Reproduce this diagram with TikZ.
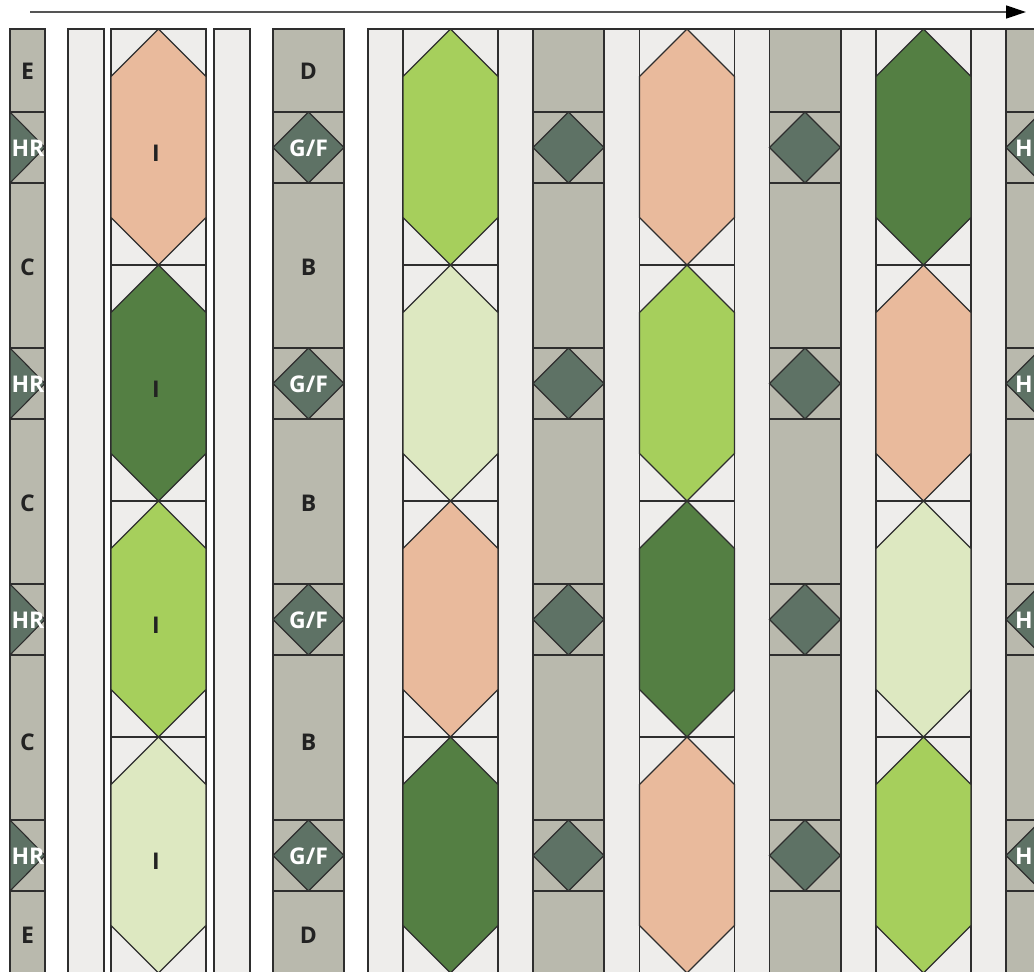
\documentclass[tikz,border=0pt]{standalone}
\usepackage{fontspec}
\setmainfont{Open Sans}
\usetikzlibrary{arrows.meta}
\definecolor{linec}{HTML}{2E2E2E}
\definecolor{arrowc}{HTML}{555555}
\definecolor{lightc}{HTML}{EEEDEB}
\definecolor{grayc}{HTML}{B9B9AD}
\definecolor{diamc}{HTML}{5E7265}
\definecolor{peach}{HTML}{E9BA9C}
\definecolor{dkgreen}{HTML}{547F43}
\definecolor{ltgreen}{HTML}{A6CF5C}
\definecolor{palegreen}{HTML}{DDE8C1}
\definecolor{labc}{HTML}{222222}
\begin{document}
\begin{tikzpicture}[x=1pt,y=-1pt,
  edge/.style={draw=linec, line width=1.1pt, line join=miter},
  lightbox/.style={edge, fill=lightc},
  graybox/.style={edge, fill=grayc},
  diambox/.style={edge, fill=diamc},
  lab/.style={font=\fontsize{23}{23}\selectfont\bfseries, text=labc, inner sep=0pt},
  wlab/.style={lab, text=white}]
\useasboundingbox (0,0) rectangle (1034,972);
\clip (0,0) rectangle (1034,972);
\fill[white] (0,0) rectangle (1034,972);
% light strips
\foreach \x/\w in {68/36, 214/36, 368/35, 498/35, 604/35.5, 734.5/35, 841/35, 971/35}
  \draw[lightbox] (\x,29) rectangle ++(\w,980);
% hexagon columns
\foreach \x/\cols in {111/{peach,dkgreen,ltgreen,palegreen},
                      403/{ltgreen,palegreen,peach,dkgreen},
                      639.5/{peach,ltgreen,dkgreen,peach},
                      876/{dkgreen,peach,palegreen,ltgreen}}{
  \foreach \c [count=\i from 0] in \cols {
    \pgfmathsetmacro\yt{29+236*\i}
    \draw[lightbox] (\x,\yt) rectangle ++(95,236);
    \draw[edge, fill=\c] (\x+47.5,\yt) -- ++(47.5,47.5) -- ++(0,141) -- ++(-47.5,47.5)
      -- ++(-47.5,-47.5) -- ++(0,-141) -- cycle;
  }
}
% gray columns with diamonds
\foreach \x in {273, 533, 769.5, 1006}{
  \draw[graybox] (\x,29) rectangle ++(71,980);
  \foreach \k in {0,...,3}{
    \draw[graybox] (\x,112+236*\k) rectangle ++(71,71);
    \draw[diambox] (\x+35.5,112+236*\k) -- ++(35.5,35.5) -- ++(-35.5,35.5) -- ++(-35.5,-35.5) -- cycle;
  }
}
% left half column
\draw[graybox] (10,29) rectangle (45,1000);
\foreach \k in {0,...,3}{
  \draw[graybox] (10,112+236*\k) rectangle ++(35,71);
  \draw[diambox] (10,112+236*\k) -- ++(35,35.5) -- ++(-35,35.5) -- cycle;
}
% labels
\node[lab] (e1) at (27.5,71) {E};
\node[lab] (c1) at (27.5,267) {C};
\node[lab] (c2) at (27.5,503) {C};
\node[lab] (c3) at (27.5,742) {C};
\node[lab] (e2) at (27.5,935) {E};
\foreach \k in {0,...,3}{
  \node[wlab] (hr\k) at (28,148+236*\k) {HR};
  \node[wlab, anchor=west] (hrr\k) at (1015,148+236*\k) {HR};
  \node[wlab] (gf\k) at (308.5,148+236*\k) {G/F};
  \node[lab] (i\k) at (156,153+236*\k) {I};
}
\node[lab] (d1) at (308.5,71) {D};
\node[lab] (b1) at (308.5,267) {B};
\node[lab] (b2) at (308.5,503) {B};
\node[lab] (b3) at (308.5,742) {B};
\node[lab] (d2) at (308.5,935) {D};
% arrow
\coordinate (as) at (30,12);
\coordinate (ae) at (1026,12);
\draw[arrowc, line width=1.3pt, -{Triangle[length=20pt,width=13pt,color=black]}] (as) -- (ae);
\end{tikzpicture}
\end{document}
